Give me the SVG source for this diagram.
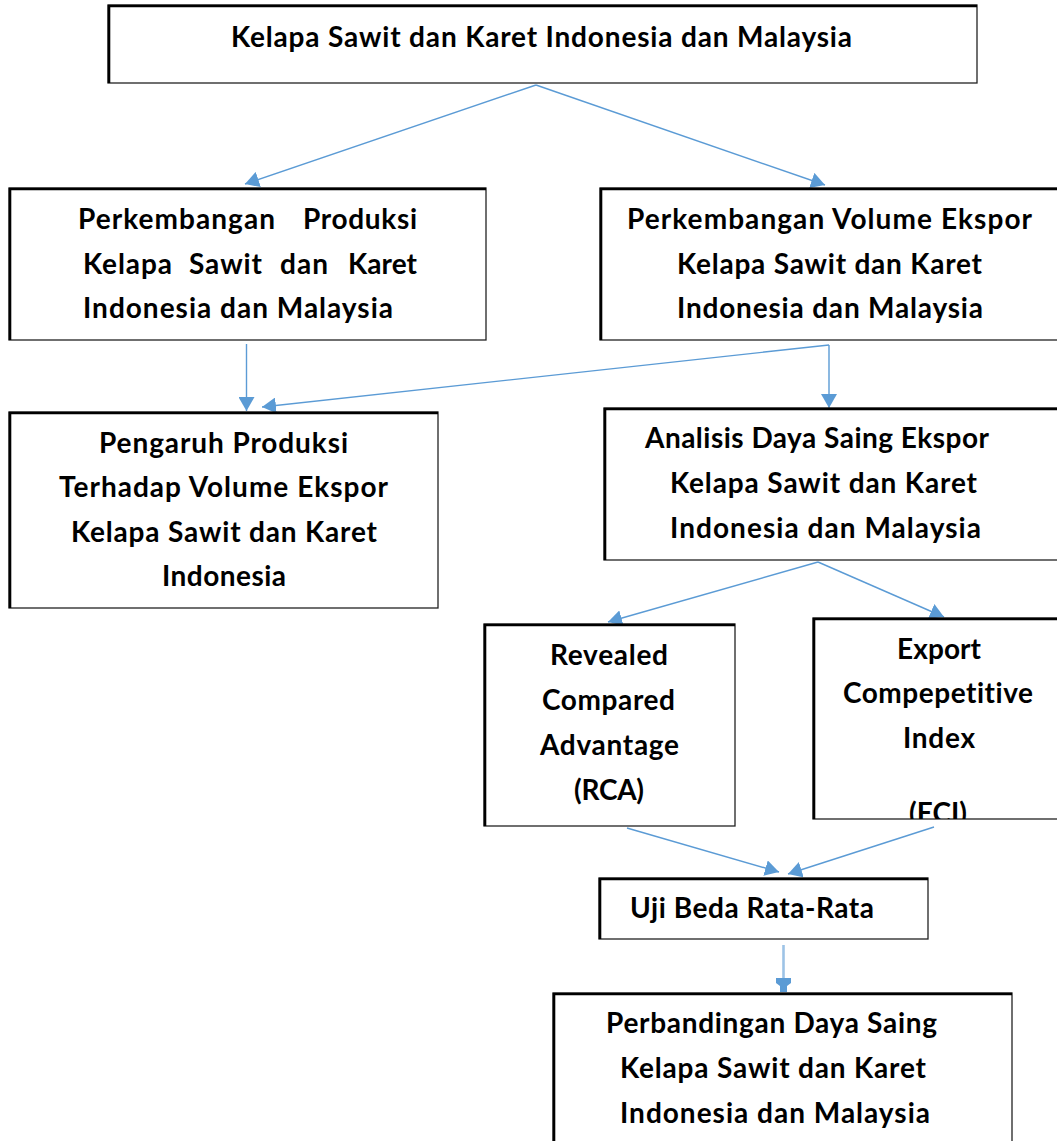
<svg xmlns="http://www.w3.org/2000/svg" width="1057" height="1141" viewBox="0 0 1057 1141">
<style>
.box{fill:#fff;stroke:#222;stroke-width:1.3}
.edge{fill:none;stroke:#000;stroke-width:2.6}
.t{font-family:Lato,"Liberation Sans",sans-serif;font-weight:700;font-size:28px;fill:#000;font-variant-ligatures:none;font-feature-settings:"liga" 0}
.c{fill:none;stroke:#5B9BD5;stroke-width:1.4}
</style>
<defs>
<marker id="ah" markerUnits="userSpaceOnUse" viewBox="0 0 14 16" refX="14" refY="8" markerWidth="14" markerHeight="16" orient="auto">
<path d="M0,0 L14,8 L0,16 Z" fill="#5B9BD5"/>
</marker>
<clipPath id="eciClip"><rect x="813" y="618" width="250" height="201"/></clipPath>
</defs>
<rect width="1057" height="1141" fill="#fff"/>

<g id="connectors">
<line class="c" x1="536" y1="85" x2="245" y2="184" marker-end="url(#ah)"/>
<line class="c" x1="536" y1="85" x2="825" y2="185" marker-end="url(#ah)"/>
<line class="c" x1="246.5" y1="344" x2="246.5" y2="411" marker-end="url(#ah)"/>
<line class="c" x1="829" y1="345" x2="262" y2="407" marker-end="url(#ah)"/>
<line class="c" x1="829" y1="345" x2="829" y2="408" marker-end="url(#ah)"/>
<line class="c" x1="818" y1="562" x2="608" y2="622" marker-end="url(#ah)"/>
<line class="c" x1="818" y1="562" x2="944" y2="617" marker-end="url(#ah)"/>
<line class="c" x1="627" y1="828" x2="779" y2="872" marker-end="url(#ah)"/>
<line class="c" x1="934" y1="827" x2="788" y2="874" marker-end="url(#ah)"/>
<line x1="783.5" y1="945" x2="783.5" y2="984" stroke="#9DC3E6" stroke-width="2.6"/>
<path d="M776,978 H791 V983 L787,986 V992 H780 V986 L776,983 Z" fill="#5B9BD5"/>
</g>

<g id="node-top">
<rect class="box" x="108" y="5" width="869" height="78"/>
<path class="edge" d="M109,83 V6 H977"/>
<text class="t" x="231" y="47" textLength="621">Kelapa Sawit dan Karet Indonesia dan Malaysia</text>
</g>

<g id="node-produksi">
<rect class="box" x="9" y="188" width="477" height="152"/>
<path class="edge" d="M10,340 V189 H486"/>
<text class="t" y="229"><tspan x="78" textLength="197">Perkembangan</tspan><tspan x="303" textLength="114">Produksi</tspan></text>
<text class="t" y="274"><tspan x="83" textLength="89">Kelapa</tspan><tspan x="189" textLength="73">Sawit</tspan><tspan x="280" textLength="48">dan</tspan><tspan x="348" textLength="69">Karet</tspan></text>
<text class="t" x="83" y="318" textLength="310">Indonesia dan Malaysia</text>
</g>

<g id="node-ekspor">
<rect class="box" x="600" y="188" width="470" height="152"/>
<path class="edge" d="M601,340 V189 H1057"/>
<text class="t" x="627" y="229" textLength="405">Perkembangan Volume Ekspor</text>
<text class="t" x="677" y="274" textLength="305">Kelapa Sawit dan Karet</text>
<text class="t" x="677" y="318" textLength="306">Indonesia dan Malaysia</text>
</g>

<g id="node-pengaruh">
<rect class="box" x="9" y="412" width="429" height="196"/>
<path class="edge" d="M10,608 V413 H438"/>
<text class="t" x="99" y="453" textLength="249">Pengaruh Produksi</text>
<text class="t" x="59" y="497" textLength="329">Terhadap Volume Ekspor</text>
<text class="t" x="71" y="542" textLength="306">Kelapa Sawit dan Karet</text>
<text class="t" x="162" y="586" textLength="124">Indonesia</text>
</g>

<g id="node-analisis">
<rect class="box" x="604" y="408" width="466" height="152"/>
<path class="edge" d="M605,560 V409 H1057"/>
<text class="t" x="645" y="448" textLength="344">Analisis Daya Saing Ekspor</text>
<text class="t" x="670" y="493" textLength="307">Kelapa Sawit dan Karet</text>
<text class="t" x="670" y="538" textLength="311">Indonesia dan Malaysia</text>
</g>

<g id="node-rca">
<rect class="box" x="484" y="624" width="251" height="202"/>
<path class="edge" d="M485,826 V625 H735"/>
<text class="t" x="550" y="665" textLength="118">Revealed</text>
<text class="t" x="542" y="710" textLength="133">Compared</text>
<text class="t" x="540" y="755" textLength="139">Advantage</text>
<text class="t" x="574" y="800" textLength="70">(RCA)</text>
</g>

<g id="node-eci">
<rect class="box" x="813" y="618" width="257" height="201"/>
<path class="edge" d="M814,819 V619 H1057"/>
<text class="t" x="897" y="659" textLength="84">Export</text>
<text class="t" x="843" y="703" textLength="190">Compepetitive</text>
<text class="t" x="903" y="748" textLength="72">Index</text>
<text class="t" x="909" y="823" textLength="58" clip-path="url(#eciClip)">(ECI)</text>
</g>

<g id="node-uji">
<rect class="box" x="599" y="878" width="329" height="61"/>
<path class="edge" d="M600,939 V879 H928"/>
<text class="t" x="630" y="918" textLength="244">Uji Beda Rata-Rata</text>
</g>

<g id="node-perbandingan">
<rect class="box" x="553" y="993" width="459" height="160"/>
<path class="edge" d="M554,1141 V994 H1012"/>
<text class="t" x="606" y="1033" textLength="331">Perbandingan Daya Saing</text>
<text class="t" x="620" y="1078" textLength="306">Kelapa Sawit dan Karet</text>
<text class="t" x="620" y="1123" textLength="310">Indonesia dan Malaysia</text>
</g>
</svg>
